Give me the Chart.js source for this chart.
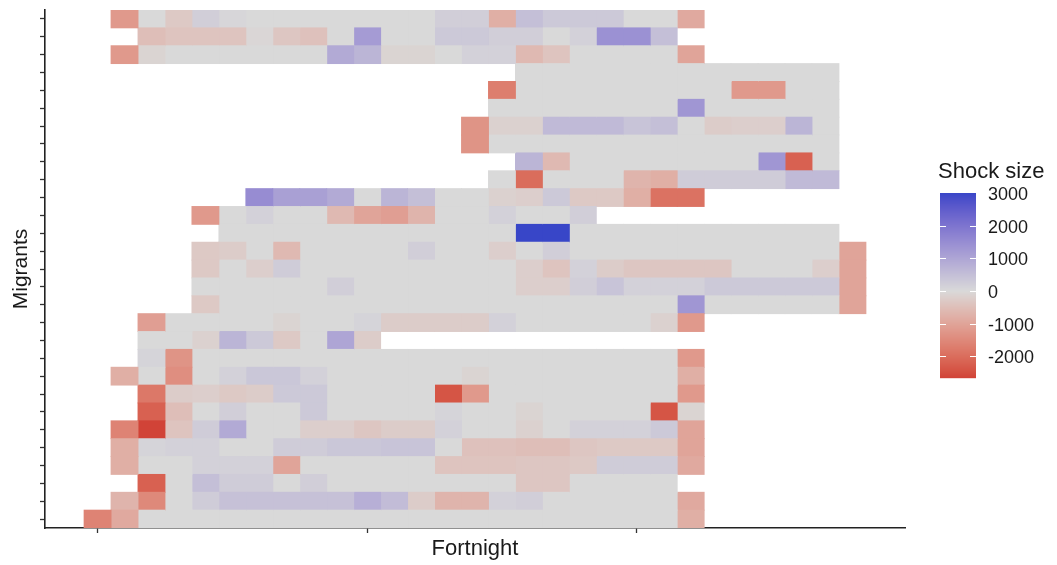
<!DOCTYPE html>
<html>
<head>
<meta charset="utf-8">
<script src="https://cdn.jsdelivr.net/npm/chart.js@4.4.1/dist/chart.umd.min.js"></script>
<style>
  html, body { margin: 0; padding: 0; background: #ffffff; }
  #wrap { width: 1057px; height: 565px; }
</style>
</head>
<body>
<div id="wrap"><canvas id="chart" width="1057" height="565"></canvas></div>
<script>
// Fortnight index of each column
const fortnights = [0, 1, 2, 3, 4, 5, 6, 7, 8, 9, 10, 11, 12, 13, 14, 15, 16, 17, 18, 19, 20, 21, 22, 23, 24, 25, 26, 27, 28];
const fortnightTicks = [0, 10, 20];

// Migrants, top row first
const migrants = ['M01', 'M02', 'M03', 'M04', 'M05', 'M06', 'M07', 'M08', 'M09', 'M10',
                  'M11', 'M12', 'M13', 'M14', 'M15', 'M16', 'M17', 'M18', 'M19', 'M20',
                  'M21', 'M22', 'M23', 'M24', 'M25', 'M26', 'M27', 'M28', 'M29'];

// First observed fortnight for each migrant
const firstFortnight = [1, 2, 1, 16, 15, 15, 14, 14, 16, 15, 6, 4, 5, 4, 4, 4, 4, 2, 2, 2, 1, 2, 2, 1, 1, 1, 2, 1, 0];

// Shock size per migrant, one value per consecutive fortnight from firstFortnight
const shockSize = [
  [-1200, 0, -300, 200, 50, 0, 0, 0, 0, 0, 0, 0, 200, 200, -800, 500, 300, 300, 300, 0, 0, -900],
  [-500, -400, -400, -400, -50, -350, -450, 0, 1200, 0, 0, 300, 300, 200, 200, 0, 150, 1400, 1400, 500],
  [-1200, -100, 0, 0, 0, 0, 0, 0, 900, 700, -100, -100, 0, 150, 150, -600, -400, 0, 0, 0, 0, -1000],
  [0, 0, 0, 0, 0, 0, 0, 0, 0, 0, 0, 0],
  [-1700, 0, 0, 0, 0, 0, 0, 0, 0, -1200, -1200, 0, 0],
  [0, 0, 0, 0, 0, 0, 0, 1300, 0, 0, 0, 0, 0],
  [-1300, -150, -150, 600, 600, 600, 400, 500, 0, -250, -200, -200, 700, 0],
  [-1300, 0, 0, 0, 0, 0, 0, 0, 0, 0, 0, 0, 0, 0],
  [700, -600, 0, 0, 0, 0, 0, 0, 0, 1300, -2200, 0],
  [0, -2000, 0, 0, 0, -700, -800, 250, 250, 250, 250, 600, 600],
  [1500, 1100, 1100, 900, 0, 700, 500, 0, 0, -150, -200, 300, -300, -300, -800, -1900, -1900],
  [-1200, 0, 150, 0, 0, -600, -1000, -1100, -700, 0, 0, 150, 0, 0, 200],
  [0, 0, 0, 0, 0, 0, 0, 0, 0, 0, 0, 3000, 3000, 0, 0, 0, 0, 0, 0, 0, 0, 0, 0],
  [-300, -250, 0, -600, 0, 0, 0, 0, 200, 0, 0, -200, 0, 200, 0, 0, 0, 0, 0, 0, 0, 0, 0, 0, -1000],
  [-300, 0, -200, 250, 0, 0, 0, 0, 0, 0, 0, 0, -200, -400, 150, -250, -350, -350, -350, -350, 0, 0, 0, -200, -1000],
  [0, 0, 0, 0, 0, 200, 0, 0, 0, 0, 0, 0, -200, -200, 200, 400, 150, 150, 150, 300, 300, 300, 300, 300, -1000],
  [-300, 0, 0, 0, 0, 0, 0, 0, 0, 0, 0, 0, 0, 0, 0, 0, 0, 0, 1300, 0, 0, 0, 0, 0, -1000],
  [-1100, 0, 0, 0, 0, -100, 0, 0, 100, -250, -250, -250, -250, 150, 0, 0, 0, 0, 0, -150, -1200],
  [0, 0, -150, 700, 300, -300, 0, 1000, -250],
  [100, -1300, 0, 0, 0, 0, 0, 0, 0, 0, 0, 0, 0, 0, 0, 0, 0, 0, 0, 0, -1200],
  [-800, 0, -1400, 0, 150, 350, 350, 150, 0, 0, 0, 0, 0, -100, 0, 0, 0, 0, 0, 0, 0, -800],
  [-1800, -250, -200, -300, -250, 300, 300, 0, 0, 0, 0, -2400, -1200, 0, 0, 0, 0, 0, 0, 0, -1200],
  [-2200, -500, 0, 200, 0, 0, 300, 0, 0, 0, 0, 100, 0, 0, -100, 0, 0, 0, 0, -2400, -100],
  [-1600, -2660, -400, 250, 900, 0, 0, -200, -200, -350, -250, -250, 150, 0, 0, -150, 0, 150, 150, 150, 300, -1000],
  [-800, 100, 150, 150, 0, 0, 250, 250, 350, 350, 400, 400, 0, -450, -450, -500, -500, -350, -300, -300, -300, -1000],
  [-800, 0, 0, 150, 150, 150, -1000, 0, 0, 0, 0, 0, -400, -400, -400, -350, -350, -300, 250, 250, 250, -900],
  [-2200, 0, 500, 250, 250, 0, 200, 0, 0, 0, 0, 0, 0, 0, -350, -350, 0, 0, 0, 0],
  [-700, -1500, 0, 250, 450, 450, 450, 450, 450, 800, 550, -250, -700, -700, 150, 200, 0, 0, 0, 0, 0, -900],
  [-1600, -900, 0, 0, 0, 0, 0, 0, 0, 0, 0, 0, 0, 0, 0, 0, 0, 0, 0, 0, 0, 0, -800]
];

const legendTicks = [3000, 2000, 1000, 0, -1000, -2000];

// ---- diverging colour scale (red - grey - blue), interpolated in CIE Lab ----
const LOW = [203, 38, 36], MID = [217, 217, 217], HIGH = [56, 70, 200];
function toLin(c) { c /= 255; return c <= 0.04045 ? c / 12.92 : Math.pow((c + 0.055) / 1.055, 2.4); }
function fromLin(c) { const v = c <= 0.0031308 ? 12.92 * c : 1.055 * Math.pow(c, 1 / 2.4) - 0.055; return Math.round(Math.max(0, Math.min(1, v)) * 255); }
function rgbToLab(rgb) {
  const r = toLin(rgb[0]), g = toLin(rgb[1]), b = toLin(rgb[2]);
  const X = (0.4124 * r + 0.3576 * g + 0.1805 * b) / 0.95047;
  const Y = (0.2126 * r + 0.7152 * g + 0.0722 * b);
  const Z = (0.0193 * r + 0.1192 * g + 0.9505 * b) / 1.08883;
  const f = t => t > 0.008856 ? Math.cbrt(t) : 7.787 * t + 16 / 116;
  const fx = f(X), fy = f(Y), fz = f(Z);
  return [116 * fy - 16, 500 * (fx - fy), 200 * (fy - fz)];
}
function labToRgb(lab) {
  const fy = (lab[0] + 16) / 116, fx = fy + lab[1] / 500, fz = fy - lab[2] / 200;
  const fi = t => t > 0.206893 ? t * t * t : (t - 16 / 116) / 7.787;
  const X = fi(fx) * 0.95047, Y = fi(fy), Z = fi(fz) * 1.08883;
  const r = 3.2406 * X - 1.5372 * Y - 0.4986 * Z;
  const g = -0.9689 * X + 1.8758 * Y + 0.0415 * Z;
  const b = 0.0557 * X - 0.2040 * Y + 1.0570 * Z;
  return [fromLin(r), fromLin(g), fromLin(b)];
}
const LAB_LOW = rgbToLab(LOW), LAB_MID = rgbToLab(MID), LAB_HIGH = rgbToLab(HIGH);

const allValues = shockSize.flat();
const vMin = Math.min(...allValues), vMax = Math.max(...allValues);
const vAbs = Math.max(Math.abs(vMin), Math.abs(vMax));

function shockColor(v) {
  const t = Math.min(1, Math.abs(v) / vAbs);
  const end = v < 0 ? LAB_LOW : LAB_HIGH;
  const lab = LAB_MID.map((m, i) => m + (end[i] - m) * t);
  const c = labToRgb(lab);
  return `rgb(${c[0]},${c[1]},${c[2]})`;
}

// one floating-bar dataset per fortnight column
const datasets = fortnights.map(f => {
  const data = [], colors = [];
  migrants.forEach((m, r) => {
    const v = shockSize[r][f - firstFortnight[r]];
    if (f >= firstFortnight[r] && v !== undefined) {
      data.push([f - 0.5, f + 0.5]);
      colors.push(shockColor(v));
    } else {
      data.push(null);
      colors.push('rgba(0,0,0,0)');
    }
  });
  return { label: 'F' + f, data, backgroundColor: colors };
});

const FONT = 'Liberation Sans, Arial, Helvetica, sans-serif';
const TEXT = '#1a1a1a';

// colour bar legend on the right of the panel
const shockColorbar = {
  id: 'shockColorbar',
  afterDraw(chart) {
    const { ctx, chartArea } = chart;
    const x0 = chartArea.right + 35, w = 36;
    const top = chartArea.top + 183, h = 185;
    const yOf = v => top + (vMax - v) / (vMax - vMin) * h;
    ctx.save();
    for (let i = 0; i < h; i++) {
      const v = vMax - (i + 0.5) / h * (vMax - vMin);
      ctx.fillStyle = shockColor(v);
      ctx.fillRect(x0, top + i, w, 1.2);
    }
    ctx.strokeStyle = '#ffffff';
    ctx.lineWidth = 1;
    ctx.font = `18px ${FONT}`;
    ctx.fillStyle = TEXT;
    ctx.textBaseline = 'middle';
    ctx.textAlign = 'left';
    legendTicks.forEach(v => {
      const y = Math.round(yOf(v)) + 0.5;
      if (v < vMax && v > vMin) {
        ctx.beginPath();
        ctx.moveTo(x0, y); ctx.lineTo(x0 + 6, y);
        ctx.moveTo(x0 + w - 6, y); ctx.lineTo(x0 + w, y);
        ctx.stroke();
      }
      ctx.fillText(String(v), x0 + 48, yOf(v) + 2);
    });
    ctx.font = `22px ${FONT}`;
    ctx.fillText('Shock size', x0 - 2, top - 21);
    ctx.restore();
  }
};

new Chart(document.getElementById('chart'), {
  type: 'bar',
  data: { labels: migrants, datasets },
  options: {
    indexAxis: 'y',
    responsive: false,
    animation: false,
    layout: { padding: { top: 10, right: 152, left: 0, bottom: 0 } },
    plugins: { legend: { display: false }, tooltip: { enabled: false } },
    datasets: { bar: { grouped: false, barPercentage: 1, categoryPercentage: 1, borderWidth: 0, inflateAmount: 0.45 } },
    scales: {
      x: {
        type: 'linear',
        min: -1.95, max: 29.95,
        afterBuildTicks(scale) { scale.ticks = fortnightTicks.map(v => ({ value: v })); },
        afterFit(scale) { scale.height = 37; },
        ticks: { display: false },
        grid: { drawOnChartArea: false, drawTicks: true, tickLength: 5, tickColor: '#333', tickWidth: 1.3 },
        border: { color: '#222', width: 1.6 },
        title: { display: true, text: 'Fortnight', color: TEXT, font: { family: FONT, size: 22 }, padding: { top: 0, bottom: 3 } }
      },
      y: {
        type: 'category',
        offset: true,
        afterFit(scale) { scale.width = 45; },
        ticks: { display: false, autoSkip: false },
        grid: { offset: false, drawOnChartArea: false, drawTicks: true, tickLength: 5, tickColor: '#333', tickWidth: 1.3 },
        border: { color: '#222', width: 1.6 },
        title: { display: true, text: 'Migrants', color: TEXT, font: { family: FONT, size: 21 }, padding: { top: 9, bottom: 0 } }
      }
    }
  },
  plugins: [shockColorbar]
});
</script>
</body>
</html>
